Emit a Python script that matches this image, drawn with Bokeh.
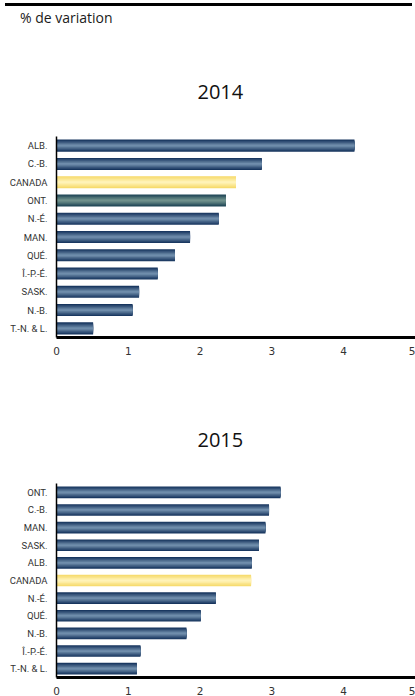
from bokeh.plotting import figure
from bokeh.layouts import column
from bokeh.models import Range1d, FactorRange, FixedTicker, Title, Div
from bokeh.embed import file_html
from bokeh.resources import INLINE

# ---- data ----
regions_2014 = ["ALB.", "C.-B.", "CANADA", "ONT.", "N.-É.", "MAN.", "QUÉ.",
                "Î.-P.-É.", "SASK.", "N.-B.", "T.-N. & L."]
values_2014 = [4.15, 2.86, 2.50, 2.36, 2.26, 1.86, 1.65, 1.41, 1.15, 1.06, 0.51]

regions_2015 = ["ONT.", "C.-B.", "MAN.", "SASK.", "ALB.", "CANADA", "N.-É.",
                "QUÉ.", "N.-B.", "Î.-P.-É.", "T.-N. & L."]
values_2015 = [3.12, 2.96, 2.91, 2.82, 2.72, 2.71, 2.22, 2.01, 1.81, 1.17, 1.12]

x_ticks = [0, 1, 2, 3, 4, 5]
unit_label = "% de variation"
titles = ["2014", "2015"]

# ---- styles ----
NAVY = ("#17355e", "#6f8dab")
TEAL = ("#1f4656", "#6f918c")
YELLOW = ("#f6da6a", "#fff3b8")
LEFT = 56


def mix(c1, c2, t):
    a = [int(c1[i:i + 2], 16) for i in (1, 3, 5)]
    b = [int(c2[i:i + 2], 16) for i in (1, 3, 5)]
    return "#%02x%02x%02x" % tuple(round(a[k] + (b[k] - a[k]) * t) for k in range(3))


def chart(regions, values, frame_h, top, bottom, title, title_standoff,
          teal_ont=False):
    p = figure(width=415, height=top + frame_h + bottom,
               frame_width=359, frame_height=frame_h,
               x_range=Range1d(0, 5), y_range=FactorRange(factors=list(reversed(regions))),
               output_backend="svg", toolbar_location=None,
               min_border_left=LEFT, min_border_right=0,
               min_border_top=top, min_border_bottom=bottom,
               outline_line_color=None)
    p.xgrid.visible = False
    p.ygrid.visible = False
    edges = []
    for r in regions:
        if r == "CANADA":
            edges.append(YELLOW)
        elif teal_ont and r == "ONT.":
            edges.append(TEAL)
        else:
            edges.append(NAVY)
    n = 7
    for k in range(n):
        t = k / (n - 1)
        hgt = 0.66 * (1 - k / n)
        cols = [mix(e[0], e[1], t) for e in edges]
        p.hbar(y=regions, right=values, left=0, height=hgt, fill_color=cols,
               line_color=None)
    xa = p.xaxis[0]
    xa.ticker = FixedTicker(ticks=x_ticks)
    xa.axis_line_width = 3
    xa.axis_line_color = "black"
    xa.major_tick_line_color = None
    xa.minor_tick_line_color = None
    xa.major_tick_out = 0
    xa.major_tick_in = 0
    xa.major_label_standoff = 9
    xa.major_label_text_font = "DejaVu Sans"
    xa.major_label_text_font_size = "10.5px"
    xa.major_label_text_color = "#333333"
    ya = p.yaxis[0]
    ya.axis_line_width = 1.5
    ya.axis_line_color = "black"
    ya.major_tick_line_color = None
    ya.minor_tick_line_color = None
    ya.major_tick_out = 0
    ya.major_tick_in = 0
    ya.major_label_standoff = 9
    ya.major_label_text_font = "Roboto"
    ya.major_label_text_font_size = "9.5px"
    ya.major_label_text_color = "#333333"

    p.add_layout(Title(text=title, align="left", offset=197 - LEFT,
                       text_font="Open Sans", text_font_size="20px",
                       text_font_style="normal", text_color="#111111",
                       standoff=title_standoff), "above")
    return p


header = Div(
    text=('<div style="padding:4px 0 0 15px;font-family:\'Open Sans\';font-size:14px;'
          'line-height:16px;color:#1a1a1a">' + unit_label + '</div>'),
    width=407, height=24,
    styles={"border-top": "3px solid black", "margin-top": "3px"})
p1 = chart(regions_2014, values_2014, 201, 104, 27, titles[0], 75, teal_ont=True)
p2 = chart(regions_2015, values_2015, 194, 119, 21, titles[1], 73)

layout = column(header, p1, p2, spacing=0)
open("out.html", "w").write(file_html(layout, INLINE))
